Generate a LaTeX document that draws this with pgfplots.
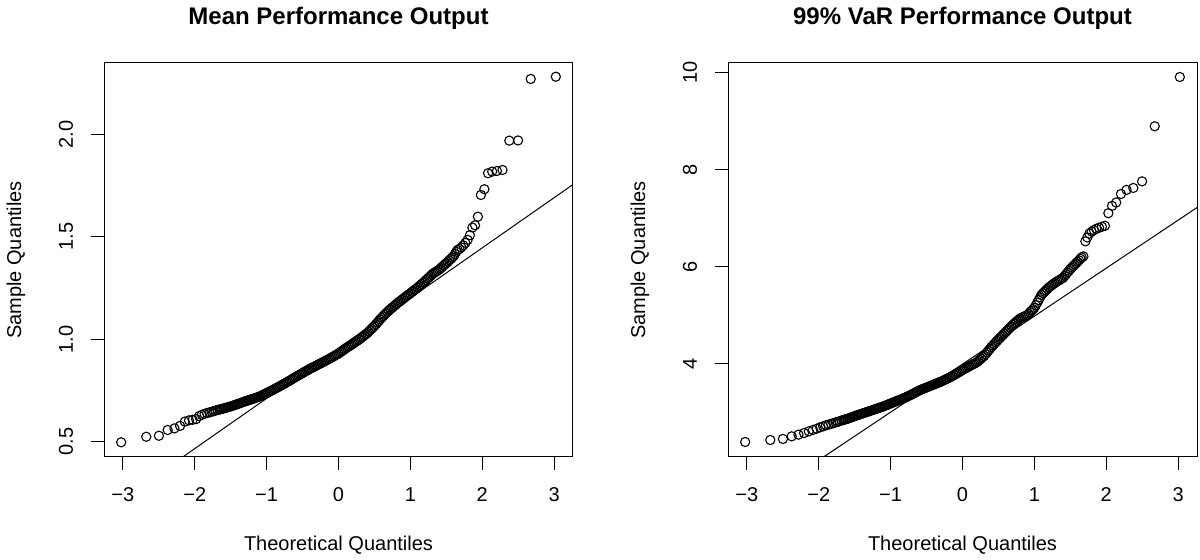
\documentclass[border=0pt]{standalone}
\usepackage{fontspec}
\setmainfont{Liberation Sans}
\usepackage{pgfplots}
\usepackage{pgfplotstable}
\pgfplotsset{compat=1.18}

\pgfplotstableread{
x y
-3.023 0.497
-2.674 0.524
-2.498 0.529
-2.376 0.557
-2.282 0.565
-2.204 0.577
-2.138 0.598
-2.080 0.604
-2.029 0.607
-1.981 0.610
-1.939 0.625
-1.900 0.631
-1.863 0.636
-1.828 0.640
-1.796 0.643
-1.765 0.646
-1.736 0.649
-1.709 0.652
-1.682 0.655
-1.657 0.657
-1.64 0.658
-1.62 0.660
-1.60 0.662
-1.58 0.664
-1.56 0.666
-1.54 0.668
-1.52 0.670
-1.50 0.672
-1.48 0.674
-1.46 0.677
-1.44 0.679
-1.42 0.682
-1.40 0.684
-1.38 0.687
-1.36 0.689
-1.34 0.692
-1.32 0.694
-1.30 0.697
-1.28 0.699
-1.26 0.701
-1.24 0.704
-1.22 0.706
-1.20 0.708
-1.18 0.710
-1.16 0.713
-1.14 0.715
-1.12 0.718
-1.10 0.720
-1.08 0.723
-1.06 0.727
-1.04 0.730
-1.02 0.734
-1.00 0.737
-0.98 0.741
-0.96 0.744
-0.94 0.748
-0.92 0.751
-0.90 0.755
-0.88 0.759
-0.86 0.763
-0.84 0.766
-0.82 0.770
-0.80 0.774
-0.78 0.778
-0.76 0.782
-0.74 0.786
-0.72 0.790
-0.70 0.794
-0.68 0.798
-0.66 0.802
-0.64 0.807
-0.62 0.811
-0.60 0.815
-0.58 0.819
-0.56 0.823
-0.54 0.827
-0.52 0.831
-0.50 0.835
-0.48 0.839
-0.46 0.843
-0.44 0.847
-0.42 0.851
-0.40 0.855
-0.38 0.859
-0.36 0.862
-0.34 0.866
-0.32 0.869
-0.30 0.873
-0.28 0.877
-0.26 0.880
-0.24 0.884
-0.22 0.887
-0.20 0.891
-0.18 0.895
-0.16 0.899
-0.14 0.902
-0.12 0.906
-0.10 0.910
-0.08 0.914
-0.06 0.918
-0.04 0.922
-0.02 0.926
0.00 0.930
0.02 0.935
0.04 0.940
0.06 0.945
0.08 0.950
0.10 0.955
0.12 0.960
0.14 0.964
0.16 0.969
0.18 0.973
0.20 0.978
0.22 0.983
0.24 0.988
0.26 0.992
0.28 0.997
0.30 1.002
0.32 1.008
0.34 1.013
0.36 1.019
0.38 1.024
0.40 1.030
0.42 1.037
0.44 1.044
0.46 1.051
0.48 1.058
0.50 1.065
0.52 1.073
0.54 1.081
0.56 1.089
0.58 1.097
0.60 1.105
0.62 1.112
0.64 1.119
0.66 1.126
0.68 1.133
0.70 1.140
0.72 1.146
0.74 1.152
0.76 1.158
0.78 1.164
0.80 1.170
0.82 1.176
0.84 1.181
0.86 1.187
0.88 1.192
0.90 1.198
0.92 1.203
0.94 1.209
0.96 1.214
0.98 1.219
1.00 1.224
1.02 1.230
1.04 1.235
1.06 1.241
1.08 1.246
1.10 1.252
1.12 1.258
1.14 1.264
1.16 1.270
1.18 1.276
1.20 1.282
1.22 1.289
1.24 1.296
1.26 1.302
1.28 1.309
1.30 1.316
1.32 1.321
1.34 1.326
1.36 1.330
1.38 1.335
1.40 1.340
1.42 1.346
1.44 1.352
1.46 1.359
1.48 1.365
1.50 1.371
1.52 1.378
1.54 1.385
1.56 1.391
1.58 1.398
1.60 1.405
1.62 1.416
1.64 1.427
1.657 1.436
1.682 1.440
1.709 1.448
1.736 1.458
1.765 1.470
1.796 1.485
1.828 1.508
1.863 1.545
1.900 1.556
1.939 1.598
1.981 1.704
2.029 1.732
2.080 1.810
2.138 1.818
2.204 1.821
2.282 1.826
2.376 1.969
2.498 1.970
2.674 2.270
3.023 2.281
}\meandata

\pgfplotstableread{
x y
-3.023 2.387
-2.674 2.428
-2.498 2.449
-2.376 2.503
-2.282 2.538
-2.204 2.572
-2.138 2.606
-2.080 2.635
-2.029 2.660
-1.981 2.690
-1.939 2.710
-1.900 2.730
-1.863 2.745
-1.828 2.760
-1.796 2.775
-1.765 2.790
-1.736 2.800
-1.709 2.815
-1.682 2.830
-1.657 2.840
-1.64 2.848
-1.62 2.856
-1.60 2.865
-1.58 2.876
-1.56 2.887
-1.54 2.898
-1.52 2.909
-1.50 2.920
-1.48 2.930
-1.46 2.940
-1.44 2.950
-1.42 2.960
-1.40 2.970
-1.38 2.980
-1.36 2.990
-1.34 3.000
-1.32 3.010
-1.30 3.020
-1.28 3.030
-1.26 3.040
-1.24 3.050
-1.22 3.060
-1.20 3.070
-1.18 3.080
-1.16 3.090
-1.14 3.100
-1.12 3.110
-1.10 3.120
-1.08 3.132
-1.06 3.144
-1.04 3.156
-1.02 3.168
-1.00 3.180
-0.98 3.192
-0.96 3.204
-0.94 3.216
-0.92 3.228
-0.90 3.240
-0.88 3.252
-0.86 3.264
-0.84 3.276
-0.82 3.288
-0.80 3.300
-0.78 3.314
-0.76 3.328
-0.74 3.342
-0.72 3.356
-0.70 3.370
-0.68 3.386
-0.66 3.402
-0.64 3.418
-0.62 3.434
-0.60 3.450
-0.58 3.462
-0.56 3.474
-0.54 3.486
-0.52 3.498
-0.50 3.510
-0.48 3.522
-0.46 3.534
-0.44 3.546
-0.42 3.558
-0.40 3.570
-0.38 3.582
-0.36 3.594
-0.34 3.606
-0.32 3.618
-0.30 3.630
-0.28 3.644
-0.26 3.658
-0.24 3.672
-0.22 3.686
-0.20 3.700
-0.18 3.716
-0.16 3.732
-0.14 3.748
-0.12 3.764
-0.10 3.780
-0.08 3.798
-0.06 3.816
-0.04 3.834
-0.02 3.852
0.00 3.870
0.02 3.886
0.04 3.902
0.06 3.918
0.08 3.934
0.10 3.950
0.12 3.966
0.14 3.982
0.16 3.998
0.18 4.014
0.20 4.030
0.22 4.056
0.24 4.082
0.26 4.108
0.28 4.134
0.30 4.160
0.32 4.196
0.34 4.232
0.36 4.268
0.38 4.304
0.40 4.340
0.42 4.372
0.44 4.404
0.46 4.436
0.48 4.468
0.50 4.500
0.52 4.530
0.54 4.560
0.56 4.590
0.58 4.620
0.60 4.650
0.62 4.680
0.64 4.710
0.66 4.740
0.68 4.770
0.70 4.800
0.72 4.826
0.74 4.852
0.76 4.878
0.78 4.904
0.80 4.930
0.82 4.944
0.84 4.958
0.86 4.972
0.88 4.986
0.90 5.000
0.92 5.030
0.94 5.060
0.96 5.090
0.98 5.120
1.00 5.150
1.02 5.204
1.04 5.258
1.06 5.312
1.08 5.366
1.10 5.420
1.12 5.450
1.14 5.480
1.16 5.510
1.18 5.540
1.20 5.570
1.22 5.592
1.24 5.614
1.26 5.636
1.28 5.658
1.30 5.680
1.32 5.698
1.34 5.716
1.36 5.734
1.38 5.752
1.40 5.770
1.42 5.806
1.44 5.842
1.46 5.878
1.48 5.914
1.50 5.950
1.52 5.980
1.54 6.010
1.56 6.040
1.58 6.070
1.60 6.100
1.62 6.130
1.64 6.160
1.657 6.190
1.682 6.210
1.709 6.520
1.736 6.600
1.765 6.680
1.796 6.720
1.828 6.750
1.863 6.780
1.900 6.800
1.939 6.820
1.981 6.840
2.029 7.100
2.080 7.250
2.138 7.320
2.204 7.495
2.282 7.580
2.376 7.620
2.498 7.755
2.674 8.890
3.023 9.905
}\vardata

\pgfplotsset{
  qq/.style={
    scale only axis, width=234.5pt, height=197pt, anchor=south west,
    xmin=-3.262, xmax=3.262,
    xtick={-3,-2,-1,0,1,2,3},
    xticklabels={{−3},{−2},{−1},{0},{1},{2},{3}},
    tick pos=left, tick align=outside, major tick length=6.35pt,
    minor tick num=0,
    tick style={black, line width=0.5pt},
    axis line style={black, line width=0.5pt},
    xticklabel style={anchor=center},
    yticklabel style={rotate=90, anchor=center},
    ticklabel shift=12.65pt,
    xlabel={Theoretical Quantiles},
    ylabel={Sample Quantiles},
    x label style={at={(axis description cs:0.5,-0.22335)}, anchor=center},
    y label style={at={(axis description cs:-0.18763,0.5)}, anchor=center},
    title style={at={(axis description cs:0.5,1.0838)}, anchor=center,
      font=\fontsize{12}{14}\selectfont\bfseries},
    qqpts/.style={only marks, mark=o, mark size=2.3pt, black,
      mark options={line width=0.55pt}},
    qqline/.style={no marks, black, line width=0.5pt},
  }
}

\begin{document}
\begin{tikzpicture}[font=\fontsize{10}{12}\selectfont]
\useasboundingbox (0,0) rectangle (600pt,280pt);

\begin{axis}[qq, at={(52pt,51.5pt)},
  ymin=0.4253, ymax=2.348,
  ytick={0.5,1.0,1.5,2.0}, yticklabels={0.5,1.0,1.5,2.0},
  title={Mean Performance Output}]
  \addplot[qqpts] table[x=x,y=y] {\meandata};
  \addplot[qqline] coordinates {(-3.262,0.157) (3.262,1.755)};
\end{axis}

\begin{axis}[qq, at={(364pt,51.5pt)},
  ymin=2.078, ymax=10.194,
  ytick={4,6,8,10}, yticklabels={4,6,8,10},
  title={99\% VaR Performance Output}]
  \addplot[qqpts] table[x=x,y=y] {\vardata};
  \addplot[qqline] coordinates {(-3.262,0.764) (3.262,7.216)};
\end{axis}
\end{tikzpicture}
\end{document}
